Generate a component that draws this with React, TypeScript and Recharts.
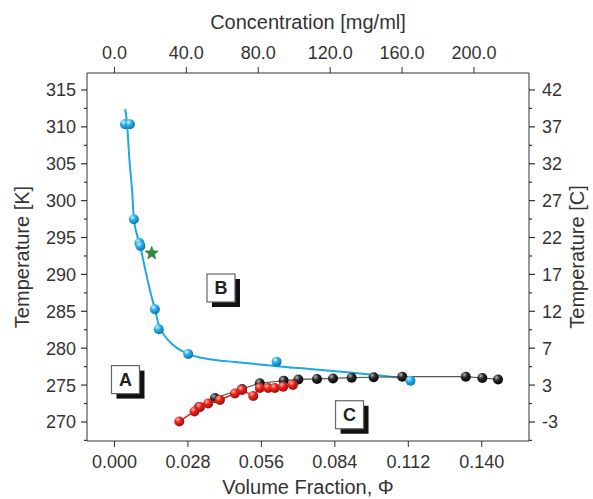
import { ComposedChart, XAxis, YAxis, Line, Scatter, ReferenceDot, Label } from 'recharts'

const W = 593
const H = 499
const FONT = '"Liberation Sans", Arial, sans-serif'
const TXT = '#333'

// blue fitted boundary
const fitPhi = [0.0041, 0.0048, 0.0057, 0.0067, 0.0074, 0.0086, 0.0097, 0.0116, 0.0135, 0.0154, 0.0169, 0.0192, 0.0219, 0.025, 0.028, 0.0326, 0.0383, 0.0459, 0.0554, 0.063, 0.0744, 0.0898, 0.1012, 0.1129]
const fitT = [312.42, 310.39, 305.51, 301.45, 297.52, 295.35, 293.99, 290.88, 287.9, 285.32, 283.15, 281.66, 280.57, 279.76, 279.22, 278.74, 278.4, 278.13, 277.79, 277.52, 277.18, 276.71, 276.3, 275.83]

// blue measured points
const bluePhi = [0.004, 0.0059, 0.0074, 0.0095, 0.0099, 0.0154, 0.0169, 0.0281, 0.0618, 0.1128]
const blueT = [310.35, 310.35, 297.47, 294.26, 293.86, 285.28, 282.57, 279.22, 278.17, 275.6]

// red points
const redPhi = [0.0247, 0.0305, 0.0326, 0.0357, 0.0402, 0.0459, 0.0486, 0.0529, 0.0554, 0.0586, 0.0611, 0.0643, 0.068]
const redT = [270.07, 271.42, 272.03, 272.5, 272.98, 273.86, 274.34, 273.53, 274.6, 274.6, 274.6, 274.79, 275.02]

// black points
const blackPhi = [0.0322, 0.0383, 0.0486, 0.0554, 0.0645, 0.0701, 0.0772, 0.0833, 0.0904, 0.0988, 0.1097, 0.1339, 0.1402, 0.1462]
const blackT = [272.03, 273.25, 274.47, 275.25, 275.6, 275.76, 275.83, 275.9, 276.0, 276.06, 276.14, 276.14, 275.96, 275.76]

// green star
const starPhi = [0.0142]
const starT = [292.87]

// region boxes
const regionNames = ['A', 'B', 'C']
const regionPhi = [0.0042, 0.0406, 0.0896]
const regionT = [275.74, 288.16, 270.98]

const phiTicks = [0, 0.028, 0.056, 0.084, 0.112, 0.14]
const concTicks = [0, 40, 80, 120, 160, 200]
const kTicks = [270, 275, 280, 285, 290, 295, 300, 305, 310, 315]
const kMinor = [267.5, 272.5, 277.5, 282.5, 287.5, 292.5, 297.5, 302.5, 307.5, 312.5]
const cLabels = ['-3', '3', '7', '12', '17', '22', '27', '32', '37', '42']

const pts = (xs: number[], ys: number[]) => xs.map((phi, i) => ({ phi, T: ys[i] }))
const fit = pts(fitPhi, fitT)
const blue = pts(bluePhi, blueT)
const red = pts(redPhi, redT)
const black = pts(blackPhi, blackT)
const star = pts(starPhi, starT)
// invisible anchors so the top axis has something to scale
const concAnchor = concTicks.map((conc) => ({ conc, T: 290 }))

const allK = [...kTicks, ...kMinor].sort((a, b) => a - b)

const LeftTick = (props: any) => {
  const { x, y, payload } = props
  const major = kTicks.includes(payload.value)
  const ax = x + 11
  return (
    <g>
      <line x1={ax - (major ? 6 : 3)} x2={ax} y1={y} y2={y} stroke={TXT} strokeWidth={1.2} />
      {major && (
        <text x={x} y={y} dy="0.36em" textAnchor="end" fontSize={18} fill={TXT} fontFamily={FONT}>
          {payload.value}
        </text>
      )}
    </g>
  )
}

const RightTick = (props: any) => {
  const { x, y, payload } = props
  const idx = kTicks.indexOf(payload.value)
  const ax = x - 13
  return (
    <g>
      <line x1={ax} x2={ax + (idx >= 0 ? 6 : 3)} y1={y} y2={y} stroke={TXT} strokeWidth={1.2} />
      {idx >= 0 && (
        <text x={x} y={y} dy="0.36em" textAnchor="start" fontSize={18} fill={TXT} fontFamily={FONT}>
          {cLabels[idx]}
        </text>
      )}
    </g>
  )
}

const ball = (grad: string, r: number) => (p: any) => (
  <circle cx={p.cx} cy={p.cy} r={r} fill={`url(#${grad})`} />
)

const noShape = () => <g />

const starShape = (p: any) => {
  const r1 = 7
  const r2 = 3
  const pts: string[] = []
  for (let i = 0; i < 10; i++) {
    const r = i % 2 === 0 ? r1 : r2
    const a = -Math.PI / 2 + (i * Math.PI) / 5
    pts.push(`${p.cx + r * Math.cos(a)},${p.cy + r * Math.sin(a)}`)
  }
  return <polygon points={pts.join(' ')} fill="#2e8b3e" stroke="#1d6b2b" strokeWidth={0.5} />
}

const regionBox = (name: string) => (p: any) => (
  <g>
    <rect x={p.cx - 9} y={p.cy - 9} width={28} height={28} fill="#111" />
    <rect x={p.cx - 14} y={p.cy - 14} width={28} height={28} fill="#fff" stroke="#666" strokeWidth={1.2} />
    <text x={p.cx} y={p.cy} dy="0.36em" textAnchor="middle" fontSize={18} fontWeight="bold" fill="#222" fontFamily={FONT}>
      {name}
    </text>
  </g>
)

const vTitle = (text: string, dx: number) => (props: any) => {
  const vb = props.viewBox
  const x = vb.x + dx
  const y = vb.y + vb.height / 2
  return (
    <text x={x} y={y} transform={`rotate(-90 ${x} ${y})`} textAnchor="middle" dominantBaseline="central" fontSize={20} fill={TXT} fontFamily={FONT}>
      {text}
    </text>
  )
}

const hTitle = (text: string, dy: number) => (props: any) => {
  const vb = props.viewBox
  return (
    <text x={vb.x + vb.width / 2} y={vb.y + dy} textAnchor="middle" dominantBaseline="central" fontSize={20} fill={TXT} fontFamily={FONT}>
      {text}
    </text>
  )
}

export default function App() {
  return (
    <div style={{ position: 'absolute', left: 0, top: 0, width: W, height: H, background: '#fff' }}>
      <ComposedChart width={W} height={H} margin={{ top: 0, right: 0, bottom: 0, left: 0 }}>
        <defs>
          <radialGradient id="gBlue" cx="35%" cy="30%" r="75%">
            <stop offset="0%" stopColor="#d6f1ff" />
            <stop offset="40%" stopColor="#2bb0e8" />
            <stop offset="100%" stopColor="#0b6fa3" />
          </radialGradient>
          <radialGradient id="gRed" cx="35%" cy="30%" r="75%">
            <stop offset="0%" stopColor="#ffb3aa" />
            <stop offset="40%" stopColor="#e8261e" />
            <stop offset="100%" stopColor="#990c08" />
          </radialGradient>
          <radialGradient id="gBlack" cx="35%" cy="30%" r="75%">
            <stop offset="0%" stopColor="#b5b5b5" />
            <stop offset="40%" stopColor="#2a2a2a" />
            <stop offset="100%" stopColor="#000" />
          </radialGradient>
        </defs>
        <XAxis
          xAxisId="phi"
          dataKey="phi"
          type="number"
          orientation="bottom"
          domain={[-0.01047, 0.158]}
          ticks={phiTicks}
          interval={0}
          allowDataOverflow
          height={58}
          tickSize={6}
          tickMargin={8}
          stroke={TXT}
          tick={{ fontSize: 18, fill: TXT, fontFamily: FONT }}
          tickFormatter={(v: number) => v.toFixed(3)}
        >
          <Label content={hTitle('Volume Fraction, Φ', 46)} />
        </XAxis>
        <XAxis
          xAxisId="conc"
          dataKey="conc"
          type="number"
          orientation="top"
          domain={[-15.28, 230.6]}
          ticks={concTicks}
          interval={0}
          allowDataOverflow
          height={73}
          tickSize={6}
          tickMargin={8}
          stroke={TXT}
          tick={{ fontSize: 18, fill: TXT, fontFamily: FONT }}
          tickFormatter={(v: number) => v.toFixed(1)}
        >
          <Label content={hTitle('Concentration [mg/ml]', 22)} />
        </XAxis>
        <YAxis
          yAxisId="K"
          dataKey="T"
          type="number"
          orientation="left"
          domain={[267.42, 317.3]}
          ticks={allK}
          interval={0}
          allowDataOverflow
          width={87}
          tickSize={6}
          tickMargin={5}
          tickLine={false}
          stroke={TXT}
          tick={<LeftTick />}
        >
          <Label content={vTitle('Temperature [K]', 22)} />
        </YAxis>
        <YAxis
          yAxisId="C"
          type="number"
          orientation="right"
          domain={[267.42, 317.3]}
          ticks={allK}
          interval={0}
          allowDataOverflow
          width={64}
          tickSize={6}
          tickMargin={7}
          tickLine={false}
          stroke={TXT}
          tick={<RightTick />}
        >
          <Label content={vTitle('Temperature [C]', 48)} />
        </YAxis>

        <Scatter xAxisId="conc" yAxisId="K" data={concAnchor} shape={noShape} isAnimationActive={false} />
        <Scatter
          xAxisId="phi"
          yAxisId="K"
          data={black}
          line={{ stroke: '#555', strokeWidth: 1.2 }}
          lineType="joint"
          shape={ball('gBlack', 5)}
          isAnimationActive={false}
        />
        <Scatter
          xAxisId="phi"
          yAxisId="K"
          data={red}
          line={{ stroke: '#e8261e', strokeWidth: 1.5 }}
          lineType="joint"
          shape={ball('gRed', 5)}
          isAnimationActive={false}
        />
        <Line
          xAxisId="phi"
          yAxisId="K"
          data={fit}
          dataKey="T"
          type="monotone"
          stroke="#1ea8e2"
          strokeWidth={2}
          dot={false}
          isAnimationActive={false}
        />
        <Scatter xAxisId="phi" yAxisId="K" data={blue} shape={ball('gBlue', 5)} isAnimationActive={false} />
        <Scatter xAxisId="phi" yAxisId="K" data={star} shape={starShape} isAnimationActive={false} />

        {regionNames.map((name, i) => (
          <ReferenceDot
            key={name}
            xAxisId="phi"
            yAxisId="K"
            x={regionPhi[i]}
            y={regionT[i]}
            shape={regionBox(name)}
          />
        ))}
      </ComposedChart>
    </div>
  )
}
